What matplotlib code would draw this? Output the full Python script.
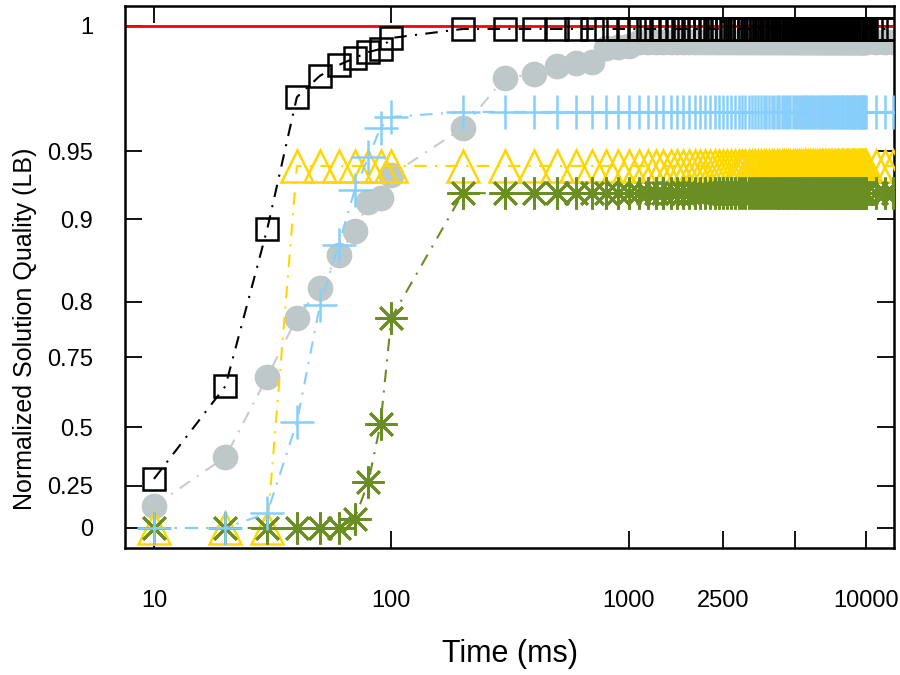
import numpy as np
import matplotlib
matplotlib.use("Agg")
from matplotlib import pyplot as plt

plt.rcParams['font.family'] = ['Liberation Sans', 'DejaVu Sans']

# time steps (ms): 10..100 by 10, 200..10000 by 100, then 11000..13000
times = list(range(10, 101, 10)) + list(range(200, 10001, 100)) + [11000, 12000, 13000]
n_tail = len(times) - 10

# early part, tail is the flat level each series settles on
black = [0.280, 0.646, 0.888, 0.9715, 0.980, 0.9843, 0.9871, 0.9895, 0.9907, 0.9951] + [0.9987] * n_tail
gray = ([0.131, 0.373, 0.679, 0.7855, 0.817, 0.857, 0.8855, 0.9125, 0.9154, 0.9324]
        + [0.9592, 0.9791, 0.9807, 0.9839, 0.9851, 0.9855, 0.991, 0.9915, 0.992]
        + [0.9935] * (n_tail - 9))
blue = [0.0, 0.0, 0.089, 0.518, 0.797, 0.869, 0.921, 0.9456, 0.9592, 0.9636] + [0.9656] * n_tail
yellow = [0.0, 0.0, 0.0, 0.939, 0.939, 0.939, 0.939, 0.939, 0.939, 0.939] + [0.939] * n_tail
green = [0.0, 0.0, 0.0, 0.0, 0.0, 0.0, 0.054, 0.267, 0.511, 0.7855] + [0.919] * n_tail

ytick_vals = [0, 0.25, 0.5, 0.75, 0.8, 0.9, 0.95, 1]
ytick_labels = ['0', '0.25', '0.5', '0.75', '0.8', '0.9', '0.95', '1']
xtick_vals = [10, 100, 1000, 2500, 5000, 10000]
xtick_labels = ['10', '100', '1000', '2500', '', '10000']

# the y axis of the original is stretched unevenly, map value -> screen units piecewise
scale_vals = np.array([-0.2, 0, 0.25, 0.5, 0.75, 0.8, 0.9, 0.95, 1.0, 1.05])
scale_pos = np.array([-13.6, 20, 62, 121, 191, 246, 329, 397, 522.3, 647.6])


def fwd(v):
    return np.interp(v, scale_vals, scale_pos)


def inv(u):
    return np.interp(u, scale_pos, scale_vals)


fig = plt.figure(figsize=(9, 6.75), dpi=100)
ax = fig.add_axes([125 / 900, 1 - 548 / 675, (894 - 125) / 900, (548 - 6) / 675])
ax.set_xscale('log')
ax.set_yscale('function', functions=(fwd, inv))

dash = (0, (6, 4, 1, 4))
ax.axhline(1.0, color='#ff0000', lw=2, zorder=1.8)
ax.plot(times, gray, linestyle=dash, color='#c8cccc', lw=1.5, marker='o', ms=17.5,
        mfc='#bfc8c8', mec='#bfc8c8', zorder=2)
ax.plot(times, black, linestyle=dash, color='black', lw=1.5, marker='s', ms=16,
        mfc='none', mec='black', mew=1.8, zorder=3)
ax.plot(times, yellow, linestyle=dash, color='#ffd700', lw=1.5, marker='^', ms=23,
        mfc='none', mec='#ffd700', mew=1.8, zorder=4)
ax.plot(times, green, linestyle=dash, color='#6b8e23', lw=1.5, marker=(8, 2, 0), ms=23,
        mec='#6b8e23', mew=2, zorder=5)
ax.plot(times, blue, linestyle=dash, color='#87cefa', lw=1.5, marker='+', ms=24,
        mec='#87cefa', mew=1.8, zorder=6)

ax.set_xlim(7.55, 13100)
ax.set_ylim(inv(0), inv(542))

ax.set_xticks(xtick_vals)
ax.set_xticklabels(xtick_labels)
ax.xaxis.set_minor_locator(matplotlib.ticker.NullLocator())
ax.set_yticks(ytick_vals)
ax.set_yticklabels(ytick_labels)
ax.yaxis.set_minor_locator(matplotlib.ticker.NullLocator())
ax.tick_params(direction='in', length=12, width=1.3, top=True, right=True, labelsize=17)
ax.tick_params(axis='x', pad=30)
ax.tick_params(axis='y', pad=23)
for s in ax.spines.values():
    s.set_linewidth(1.8)

ax.set_xlabel('Time (ms)', fontsize=22, labelpad=20)
ax.set_ylabel('Normalized Solution Quality (LB)', fontsize=18)
ax.yaxis.set_label_coords(-0.115, 0.404)

fig.savefig('out.png', dpi=100)
